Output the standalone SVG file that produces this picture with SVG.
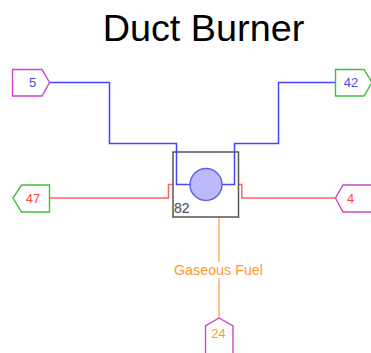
<svg xmlns="http://www.w3.org/2000/svg" width="371" height="353" viewBox="0 0 371 353">
<style>
text{font-family:"Liberation Sans",Arial,sans-serif}
.c{fill:none;stroke-width:1.5}
.tag{fill:#fff;stroke-width:1.4}
.t{font-size:13px;text-anchor:middle}
.blue{stroke:#4646ff}.red{stroke:#ff6464}.orange{stroke:#ffad5c}
.mag{stroke:#cc44cc}.grn{stroke:#3fc03f}
</style>
<rect width="371" height="353" fill="#fff"/>
<text x="203.5" y="41" font-size="37.8" text-anchor="middle" fill="#000">Duct Burner</text>
<g id="connectors">
<path class="c blue" d="M50 82.5H109.5V143.5H176.5V184.5H192"/>
<path class="c blue" d="M220 184.5H234.5V143.5H278.5V82.5H336"/>
<path class="c red" d="M50 198H168.5V184.5H173"/>
<path class="c red" d="M238.5 184.5H241.8V198H336"/>
<path class="c orange" d="M219 217V262M219 278V318"/>
</g>
<g id="unit82">
<rect x="173" y="152" width="65.5" height="65" fill="none" stroke="#555" stroke-width="1.5"/>
<circle cx="206" cy="184.5" r="16" fill="#bbbbf8" stroke="#5f5ff0" stroke-width="1.5"/>
<text x="174" y="213" font-size="14" fill="#555" stroke="#555" stroke-width="0.2">82</text>
</g>
<g id="stream5">
<path class="tag mag" d="M12.5 69.5H42L49.5 82.5L42 96H12.5Z"/>
<text class="t" x="32.5" y="87" fill="#4a4af5">5</text>
</g>
<g id="stream47">
<path class="tag grn" d="M49.5 185H21.5L13 198L21.5 212H49.5Z"/>
<text class="t" x="33" y="203" fill="#ff4a4a">47</text>
</g>
<g id="stream42">
<path class="tag grn" d="M335.5 69.5H364L372 82.5L364 96H335.5Z"/>
<text class="t" x="351" y="87" fill="#4a4af5">42</text>
</g>
<g id="stream4">
<path class="tag mag" d="M373 185H343L335.5 198L343 212H373"/>
<text class="t" x="350.5" y="203" fill="#ff4a4a">4</text>
</g>
<g id="stream24">
<path class="tag mag" d="M205.5 355V326L219 318L233 326V355"/>
<text class="t" x="218.5" y="338" fill="#ff9a33">24</text>
</g>
<text x="218.5" y="275" font-size="14.3" text-anchor="middle" fill="#ff9a33">Gaseous Fuel</text>
</svg>
